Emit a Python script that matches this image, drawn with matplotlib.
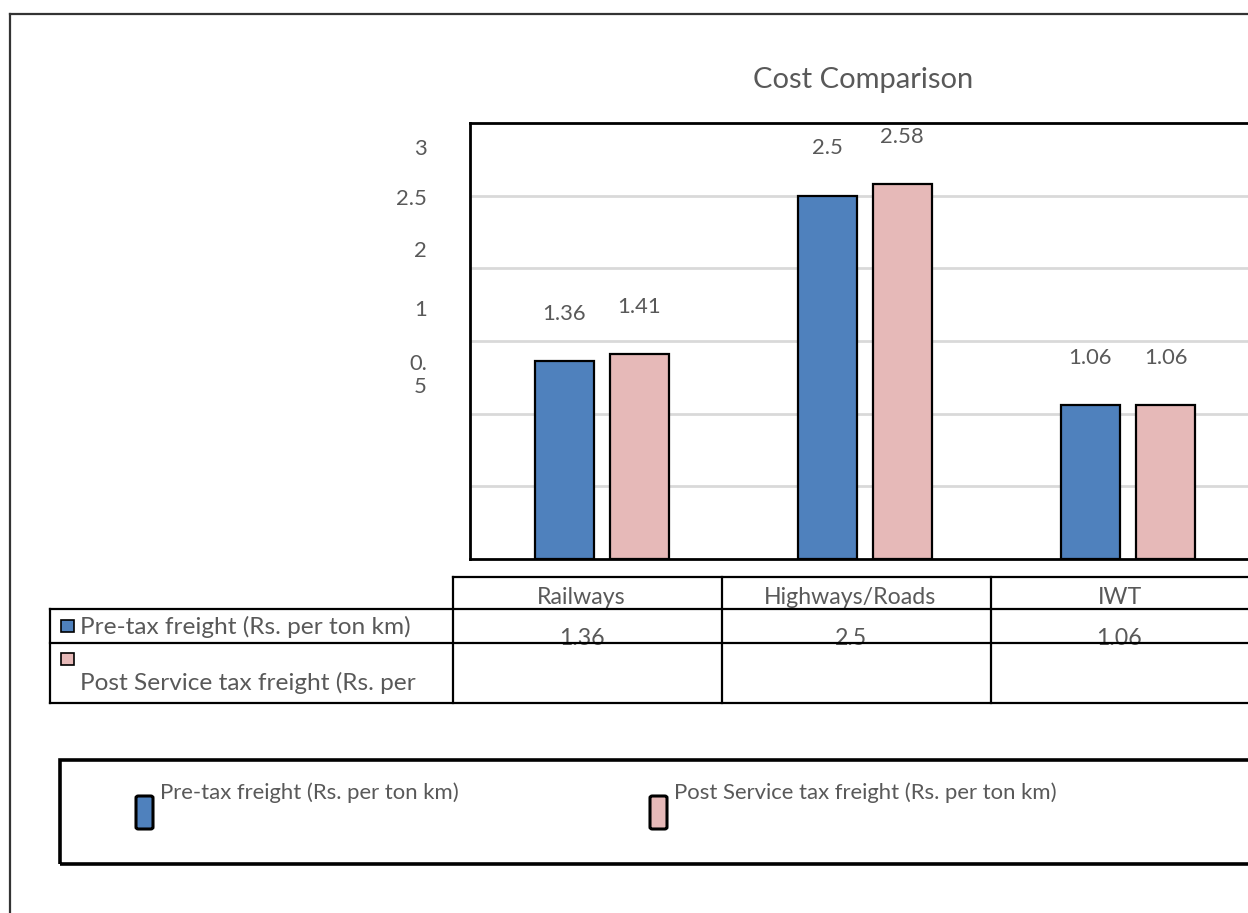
import matplotlib
matplotlib.use("Agg")
import matplotlib.pyplot as plt
from matplotlib.lines import Line2D
from matplotlib.patches import Rectangle, FancyBboxPatch

# data
categories = ["Railways", "Highways/Roads", "IWT"]
pre_tax = [1.36, 2.5, 1.06]
post_tax = [1.41, 2.58, 1.06]
series_names = ["Pre-tax freight (Rs. per ton km)",
                "Post Service tax freight (Rs. per ton km)"]
# the y tick labels are drawn out of place in the source picture
ytick_pos = [2.835, 2.49, 2.13, 1.73, 1.29]
ytick_labels = ["3", "2.5", "2", "1", "0.\n5"]
grid_values = [0.5, 1.0, 1.5, 2.0, 2.5]

BLUE = "#4F81BD"
PINK = "#E6B9B8"
TEXT = "#595959"
FONT = "Lato"

W, H = 1248, 913
plt.rcParams["font.family"] = [FONT, "DejaVu Sans"]


def fx(x):
    return x / W


def fy(y):
    return 1 - y / H


fig = plt.figure(figsize=(W / 100, H / 100), dpi=100)

# outer chart frame
fig.add_artist(Line2D([fx(10), fx(10)], [fy(14), fy(913)], color="#333333", lw=1.6))
fig.add_artist(Line2D([fx(10), fx(1248)], [fy(14), fy(14)], color="#333333", lw=1.6))

fig.text(fx(863), fy(80), "Cost Comparison", ha="center", va="center",
         fontsize=21, color=TEXT)

# plot area
ax = fig.add_axes([fx(470), fy(559), (1259.5 - 470) / W, (559 - 123) / H])
x = list(range(len(categories)))
width = 0.224
off = 0.1426
ax.bar([i - off for i in x], pre_tax, width, color=BLUE, edgecolor="black",
       linewidth=1.6, zorder=3)
ax.bar([i + off for i in x], post_tax, width, color=PINK, edgecolor="black",
       linewidth=1.6, zorder=3)
for i in x:
    ax.annotate(f"{pre_tax[i]:g}", (i - off, pre_tax[i]), xytext=(0, 34),
                textcoords="offset points", ha="center", va="center",
                fontsize=15.8, color=TEXT)
    ax.annotate(f"{post_tax[i]:g}", (i + off, post_tax[i]), xytext=(0, 34),
                textcoords="offset points", ha="center", va="center",
                fontsize=15.8, color=TEXT)

ax.set_xlim(-0.5, 2.5)
ax.set_ylim(0, 3)
ax.set_xticks([])
ax.set_yticks(ytick_pos, ytick_labels)
ax.set_yticks(grid_values, minor=True)
ax.tick_params(axis="y", which="both", length=0, pad=31, labelsize=15.8,
               labelcolor=TEXT)
ax.grid(axis="y", which="minor", color="#D9D9D9", lw=2, zorder=0)
for s in ["left", "top", "bottom"]:
    ax.spines[s].set_linewidth(2)
ax.spines["right"].set_visible(False)
for lbl in ax.get_yticklabels():
    lbl.set_multialignment("right")

# data table under the plot
col_edges = [453, 722, 991, 1260]
row_lines = [609, 643, 703]
lw_tab = 1.6
fig.add_artist(Line2D([fx(453), fx(W)], [fy(577), fy(577)], color="black", lw=lw_tab))
for y in row_lines:
    fig.add_artist(Line2D([fx(50), fx(W)], [fy(y), fy(y)], color="black", lw=lw_tab))
fig.add_artist(Line2D([fx(50), fx(50)], [fy(609), fy(703)], color="black", lw=lw_tab))
for xe in col_edges[:-1]:
    fig.add_artist(Line2D([fx(xe), fx(xe)], [fy(577), fy(703)], color="black", lw=lw_tab))

for j, cat in enumerate(categories):
    cx = (col_edges[j] + col_edges[j + 1]) / 2 - 6
    fig.text(fx(cx), fy(598), cat, ha="center", va="center", fontsize=16.7,
             color=TEXT, zorder=0)
    fig.text(fx(cx), fy(638), f"{pre_tax[j]:g}", ha="center", va="center",
             fontsize=16.7, color=TEXT, zorder=0)

fig.add_artist(Rectangle((fx(61), fy(632)), 13 / W, 12 / H, transform=fig.transFigure,
                         facecolor=BLUE, edgecolor="black", lw=1.2))
fig.text(fx(80), fy(627), series_names[0], ha="left", va="center", fontsize=17.6,
         color=TEXT)
fig.add_artist(Rectangle((fx(61), fy(665)), 13 / W, 12 / H, transform=fig.transFigure,
                         facecolor=PINK, edgecolor="black", lw=1.2))
fig.text(fx(80), fy(683), "Post Service tax freight (Rs. per", ha="left", va="center",
         fontsize=17.6, color=TEXT)

# legend box
fig.add_artist(Rectangle((fx(60), fy(864)), (1300 - 60) / W, (864 - 760) / H,
                         transform=fig.transFigure, facecolor="none",
                         edgecolor="black", lw=2.6))
legend_x = [136, 650]
for k, (name, col) in enumerate(zip(series_names, [BLUE, PINK])):
    lx = legend_x[k]
    fig.add_artist(FancyBboxPatch((fx(lx), fy(829)), 17 / W, 33 / H,
                                  boxstyle="round,pad=0,rounding_size=0.002",
                                  transform=fig.transFigure, facecolor=col,
                                  edgecolor="black", lw=2.2))
    fig.text(fx(lx + 24), fy(793), name, ha="left", va="center", fontsize=15.9,
             color=TEXT)

fig.savefig("out.png", dpi=100)
